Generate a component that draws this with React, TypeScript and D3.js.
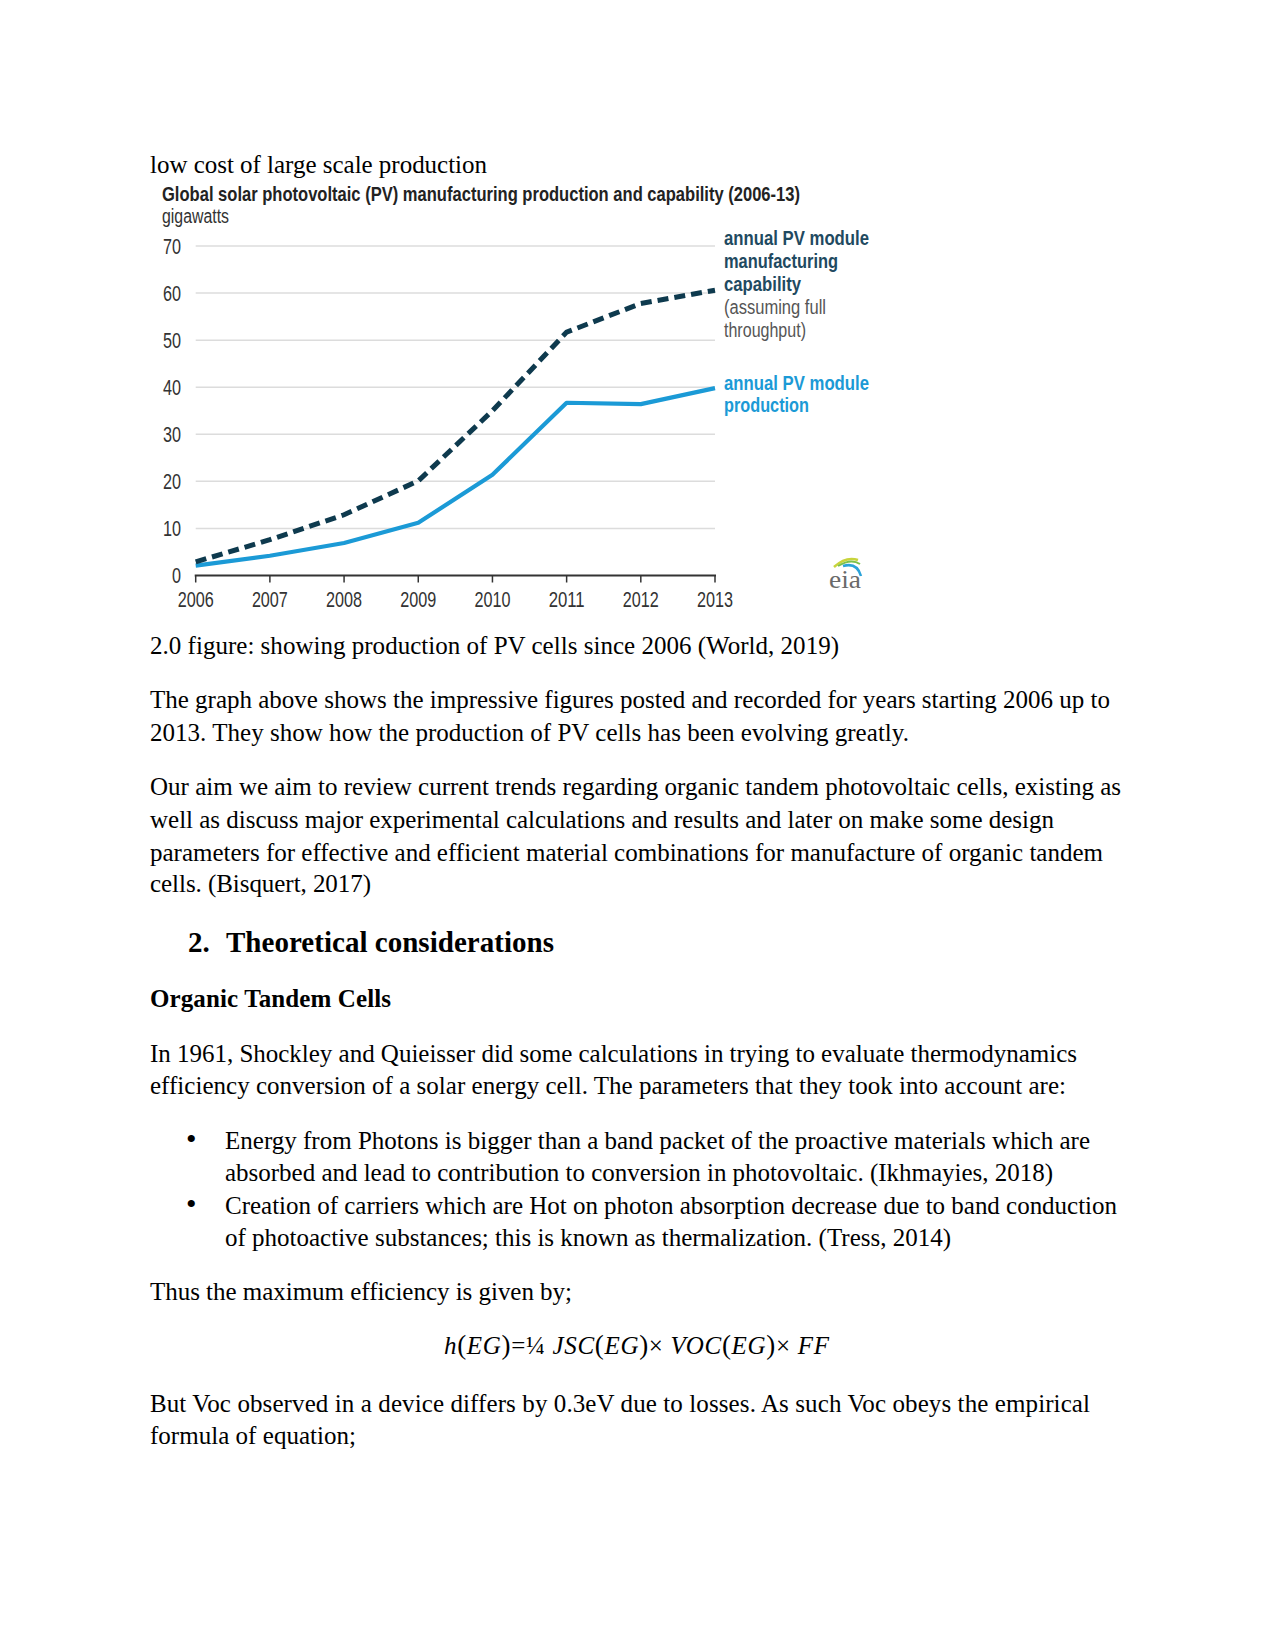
import React from "react";
import * as d3 from "d3";

const years = [2006, 2007, 2008, 2009, 2010, 2011, 2012, 2013];
const production = [2.1, 4.2, 6.9, 11.2, 21.4, 36.7, 36.4, 39.8];
const capability = [2.9, 7.6, 12.9, 20.1, 35.0, 51.7, 57.8, 60.6];
const yTicks = [0, 10, 20, 30, 40, 50, 60, 70];

const chartTitle = "Global solar photovoltaic (PV) manufacturing production  and capability (2006-13)";
const unitLabel = "gigawatts";
const capabilityLabel = ["annual PV module", "manufacturing", "capability", "(assuming full", "throughput)"];
const productionLabel = ["annual PV module", "production"];

// body text lines: [text, x, baseline, width, weight, size]
const bodyLines: [string, number, number, number, string, number][] = [
  ["low cost of large scale production", 150, 173, 337, "normal", 25],
  ["2.0 figure: showing production of PV cells since 2006 (World, 2019)", 150, 653.5, 689, "normal", 25],
  ["The graph above shows the impressive figures posted and recorded for years starting 2006 up to", 150, 708, 960, "normal", 25],
  ["2013. They show how the production of PV cells has been evolving greatly.", 150, 740.5, 759, "normal", 25],
  ["Our aim we aim to review current trends regarding organic tandem photovoltaic cells, existing as", 150, 795, 971, "normal", 25],
  ["well as discuss major experimental calculations and results and later on make some design", 150, 827.5, 904, "normal", 25],
  ["parameters for effective and efficient material combinations for manufacture of organic tandem", 150, 860.5, 953, "normal", 25],
  ["cells. (Bisquert, 2017)", 150, 892, 221, "normal", 25],
  ["Organic Tandem Cells", 150, 1006.5, 241, "bold", 25],
  ["In 1961, Shockley and Quieisser did some calculations in trying to evaluate thermodynamics", 150, 1061.5, 927, "normal", 25],
  ["efficiency conversion of a solar energy cell. The parameters that they took into account are:", 150, 1093.5, 916, "normal", 25],
  ["Energy from Photons is bigger than a band packet of the proactive materials which are", 225, 1148.5, 865, "normal", 25],
  ["absorbed and lead to contribution to conversion in photovoltaic. (Ikhmayies, 2018)", 225, 1180.5, 828, "normal", 25],
  ["Creation of carriers which are Hot on photon absorption decrease due to band conduction", 225, 1213.5, 892, "normal", 25],
  ["of photoactive substances; this is known as thermalization. (Tress, 2014)", 225, 1246, 726, "normal", 25],
  ["Thus the maximum efficiency is given by;", 150, 1300, 422, "normal", 25],
  ["But Voc observed in a device differs by 0.3eV due to losses. As such Voc obeys the empirical", 150, 1411.5, 940, "normal", 25],
  ["formula of equation;", 150, 1443.5, 206, "normal", 25],
];
const bulletBaselines = [1148.5, 1213.5];

const DASH_COLOR = "#0e3a4e";
const BLUE = "#1b9ad6";
const SANS: React.CSSProperties = { fontFamily: '"Liberation Sans", Arimo, Arial, sans-serif' };
const SERIF: React.CSSProperties = { fontFamily: '"Liberation Serif", Tinos, "Times New Roman", Times, serif' };

export default function App() {
  const x = d3.scaleLinear().domain([2006, 2013]).range([195.7, 715]);
  const y = d3.scaleLinear().domain([0, 70]).range([575.5, 246]);
  const line = d3
    .line<number>()
    .x((_, i) => x(years[i]))
    .y((d) => y(d));

  return (
    <svg
      width={1275}
      height={1650}
      style={{ position: "absolute", left: 0, top: 0, background: "#fff" }}
    >
      <rect x={0} y={0} width={1275} height={1650} fill="#fff" />

      {/* chart title */}
      <text x={162} y={200.5} style={SANS} fontWeight="bold" fontSize={20.5} fill="#222"
        textLength={638} lengthAdjust="spacingAndGlyphs">{chartTitle}</text>
      <text x={162} y={223} style={SANS} fontSize={19.5} fill="#333"
        textLength={67} lengthAdjust="spacingAndGlyphs">{unitLabel}</text>

      {/* gridlines */}
      {yTicks.filter((t) => t > 0).map((t) => (
        <line key={"g" + t} x1={x(2006)} x2={x(2013)} y1={y(t)} y2={y(t)} stroke="#dcdcdc" strokeWidth={1.5} />
      ))}
      {/* y tick labels */}
      {yTicks.map((t) => (
        <text key={"yt" + t} x={181} y={y(t) + 7.5} textAnchor="end" style={SANS} fontSize={21.5} fill="#333"
          textLength={t === 0 ? 9 : 18} lengthAdjust="spacingAndGlyphs">{t}</text>
      ))}

      {/* x axis */}
      <line x1={x(2006) - 1} x2={x(2013) + 1} y1={y(0)} y2={y(0)} stroke="#333" strokeWidth={2} />
      {years.map((yr) => (
        <g key={"xt" + yr}>
          <line x1={x(yr)} x2={x(yr)} y1={y(0)} y2={y(0) + 7} stroke="#333" strokeWidth={1.5} />
          <text x={x(yr)} y={606.5} textAnchor="middle" style={SANS} fontSize={21.5} fill="#333"
            textLength={36} lengthAdjust="spacingAndGlyphs">{yr}</text>
        </g>
      ))}

      {/* series */}
      <path d={line(production) || ""} fill="none" stroke={BLUE} strokeWidth={4.2} strokeLinejoin="round" />
      <path d={line(capability) || ""} fill="none" stroke={DASH_COLOR} strokeWidth={5} strokeDasharray="11 6" />

      {/* series labels */}
      {capabilityLabel.map((s, i) => {
        const widths = [145, 114, 77, 102, 82];
        const baselines = [244.5, 267.5, 290.5, 314, 337];
        return (
          <text key={"cl" + i} x={724} y={baselines[i]} style={SANS} fontSize={20}
            fontWeight={i < 3 ? "bold" : "normal"} fill={i < 3 ? "#1f4a61" : "#555"}
            textLength={widths[i]} lengthAdjust="spacingAndGlyphs">{s}</text>
        );
      })}
      {productionLabel.map((s, i) => {
        const widths = [145, 85];
        const baselines = [390, 412];
        return (
          <text key={"pl" + i} x={724} y={baselines[i]} style={SANS} fontSize={20}
            fontWeight="bold" fill={BLUE}
            textLength={widths[i]} lengthAdjust="spacingAndGlyphs">{s}</text>
        );
      })}

      {/* eia logo */}
      <g>
        <path d="M834 567 Q846 556 858 560" fill="none" stroke="#c8d43c" strokeWidth={2.5} />
        <path d="M838 566 Q851 558 860 564" fill="none" stroke="#7cc04b" strokeWidth={2} />
        <path d="M843 566 Q857 562 861 576" fill="none" stroke="#2ba3d9" strokeWidth={2.5} />
        <text x={829} y={588} style={SERIF} fontSize={25} fill="#6a6a6a"
          textLength={32} lengthAdjust="spacingAndGlyphs">eia</text>
      </g>

      {/* document body text */}
      {bodyLines.map(([t, lx, by, w, fw, fs], i) => (
        <text key={"b" + i} x={lx} y={by} style={SERIF} fontSize={fs} fontWeight={fw} fill="#000"
          textLength={w} lengthAdjust="spacing">{t}</text>
      ))}

      {/* heading */}
      <text x={188} y={952} style={SERIF} fontSize={29} fontWeight="bold" fill="#000">2.</text>
      <text x={226} y={952} style={SERIF} fontSize={29} fontWeight="bold" fill="#000"
        textLength={328} lengthAdjust="spacing">Theoretical considerations</text>

      {/* bullets */}
      {bulletBaselines.map((b, i) => (
        <text key={"bu" + i} x={186} y={b} style={SERIF} fontSize={30} fill="#000">•</text>
      ))}

      {/* formula */}
      <text x={444} y={1353.5} style={SERIF} fontSize={25} fontStyle="italic" fill="#000"
        textLength={385} lengthAdjust="spacing">
        <tspan>h</tspan>
        <tspan fontStyle="normal" fontSize={27}>(</tspan>
        <tspan>EG</tspan>
        <tspan fontStyle="normal" fontSize={27}>)</tspan>
        <tspan fontStyle="normal">=¼</tspan>
        <tspan> JSC</tspan>
        <tspan fontStyle="normal" fontSize={27}>(</tspan>
        <tspan>EG</tspan>
        <tspan fontStyle="normal" fontSize={27}>)</tspan>
        <tspan fontStyle="normal">×</tspan>
        <tspan> VOC</tspan>
        <tspan fontStyle="normal" fontSize={27}>(</tspan>
        <tspan>EG</tspan>
        <tspan fontStyle="normal" fontSize={27}>)</tspan>
        <tspan fontStyle="normal">×</tspan>
        <tspan> FF</tspan>
      </text>
    </svg>
  );
}
